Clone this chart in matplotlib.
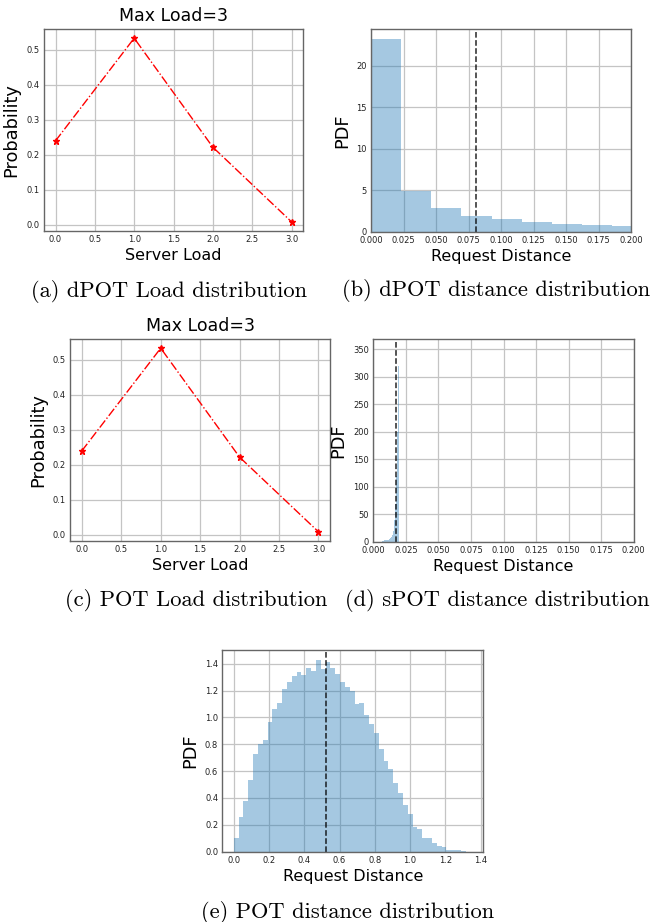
import numpy as np
import matplotlib
matplotlib.use("Agg")
import matplotlib.pyplot as plt

# Load distributions (fraction of servers at each load)
load_levels = [0, 1, 2, 3]
dpot_load_prob = [0.240, 0.533, 0.222, 0.009]
pot_load_prob = [0.240, 0.533, 0.222, 0.009]

# dPOT request distance histogram (density per bin)
dpot_bin_width = 0.0232
dpot_pdf = [23.3, 4.93, 2.85, 1.92, 1.52, 1.16, 0.92, 0.76, 0.64]
dpot_mean = 0.0808

# sPOT request distance histogram
spot_bin_start = 0.0064
spot_bin_width = 0.00034
spot_pdf = [1.5, 1.5, 2, 2, 2, 2, 2.5, 2.5, 2.5, 3, 3, 3, 3.5, 3.5, 4, 4, 4.5, 5, 5, 5.5, 6,
            7, 8, 10, 13,
            16, 20, 25, 31,
            40, 52, 68, 90,
            120, 160, 200, 240, 280, 320, 351]
spot_mean = 0.0177

# POT request distance histogram
pot_bin_width = 0.0274
pot_pdf = [0.099, 0.255, 0.381, 0.532, 0.727, 0.799, 0.829, 0.967, 1.064, 1.106,
           1.210, 1.266, 1.306, 1.340, 1.318, 1.368, 1.346, 1.430, 1.360, 1.410,
           1.368, 1.323, 1.266, 1.224, 1.200, 1.100, 1.108, 1.014, 0.947, 0.885,
           0.767, 0.673, 0.613, 0.514, 0.435, 0.346, 0.277, 0.183, 0.168, 0.099,
           0.099, 0.062, 0.042, 0.032, 0.015, 0.010, 0.010, 0.007]
pot_mean = 0.522

W, H = 656, 922
fig = plt.figure(figsize=(W / 100, H / 100), dpi=100)


def px_axes(l, t, r, b):
    return fig.add_axes([l / W, 1 - b / H, (r - l) / W, (b - t) / H])


def style(ax):
    ax.grid(True, color="#c4c4c4", linewidth=0.9)
    ax.set_axisbelow(True)
    for s in ax.spines.values():
        s.set_color("#666666")
        s.set_linewidth(1.0)
    ax.tick_params(labelsize=6, length=0, pad=3, labelcolor="#222222")


def load_plot(ax, probs):
    ax.plot(load_levels, probs, color="red", linestyle="-.", linewidth=1.0,
            marker="*", markersize=5)
    ax.set_title("Max Load=3", fontsize=12.5)
    ax.set_xlabel("Server Load", fontsize=11.5, labelpad=3)
    ax.set_ylabel("Probability", fontsize=12.8)
    ax.set_xticks(np.arange(0, 3.01, 0.5))
    style(ax)


def hist_plot(ax, edges, pdf, mean):
    ax.bar(edges[:-1], pdf, width=np.diff(edges), align="edge",
           color="#1f77b4", alpha=0.4, linewidth=0)
    ax.axvline(mean, color="black", linestyle="--", linewidth=1.1, alpha=0.85)
    ax.set_xlabel("Request Distance", fontsize=11.5, labelpad=3)
    ax.set_ylabel("PDF", fontsize=12.8)
    ax.set_ylim(0, max(pdf) * 1.05)
    style(ax)


# (a)
ax_a = px_axes(43.7, 29, 303.3, 231)
load_plot(ax_a, dpot_load_prob)

# (b)
ax_b = px_axes(371, 29, 631, 231.7)
edges_b = np.arange(len(dpot_pdf) + 1) * dpot_bin_width
hist_plot(ax_b, edges_b, dpot_pdf, dpot_mean)
ax_b.set_xlim(0, 0.2)
ax_b.set_xticks(np.arange(0, 0.2001, 0.025))
ax_b.set_xticklabels(["%.3f" % v for v in np.arange(0, 0.2001, 0.025)])

# (c)
ax_c = px_axes(70, 339, 330.3, 541)
load_plot(ax_c, pot_load_prob)

# (d)
ax_d = px_axes(373.3, 339, 633.7, 541.7)
edges_d = spot_bin_start + np.arange(len(spot_pdf) + 1) * spot_bin_width
hist_plot(ax_d, edges_d, spot_pdf, spot_mean)
ax_d.set_xlim(0, 0.2)
ax_d.set_xticks(np.arange(0, 0.2001, 0.025))
ax_d.set_xticklabels(["%.3f" % v for v in np.arange(0, 0.2001, 0.025)])
ax_d.set_yticks(np.arange(0, 351, 50))

# (e)
ax_e = px_axes(222.3, 650, 483.3, 851.7)
edges_e = np.arange(len(pot_pdf) + 1) * pot_bin_width
hist_plot(ax_e, edges_e, pot_pdf, pot_mean)
ax_e.set_xlim(-0.065, 1.415)
ax_e.set_xticks(np.arange(0, 1.41, 0.2))
ax_e.set_yticks(np.arange(0, 1.41, 0.2))

# captions
cap = dict(fontfamily="cmr10", fontsize=16.2, ha="center", va="center")
fig.text(168.7 / W, 1 - 291.5 / H, "(a) dPOT Load distribution", **cap)
fig.text(496 / W, 1 - 290.5 / H, "(b) dPOT distance distribution", **cap)
fig.text(195.8 / W, 1 - 600.5 / H, "(c) POT Load distribution", **cap)
fig.text(497.5 / W, 1 - 600.5 / H, "(d) sPOT distance distribution", **cap)
fig.text(347.5 / W, 1 - 912 / H, "(e) POT distance distribution", **cap)

fig.savefig("out.png", dpi=100)
